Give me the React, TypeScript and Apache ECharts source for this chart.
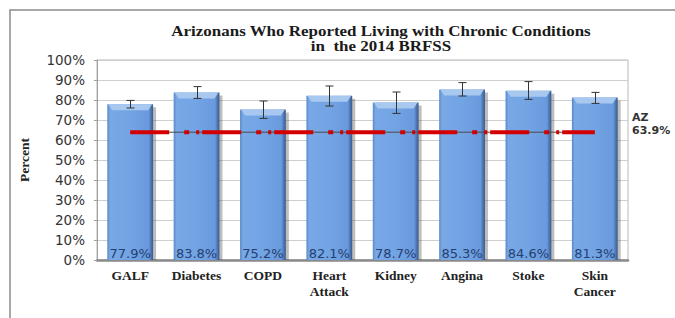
import React, { useEffect, useRef } from "react";
import * as echarts from "echarts";

const categories = ["GALF", "Diabetes", "COPD", "Heart\nAttack", "Kidney", "Angina", "Stoke", "Skin\nCancer"];
const values = [77.9, 83.8, 75.2, 82.1, 78.7, 85.3, 84.6, 81.3];
const errLow = [76.0, 80.8, 70.8, 77.0, 73.3, 82.0, 80.3, 78.3];
const errHigh = [79.8, 86.7, 79.5, 87.0, 84.0, 88.7, 89.2, 83.8];
const azRate = 63.9;
const titleText = "Arizonans Who Reported Living with Chronic Conditions\nin  the 2014 BRFSS";
const yAxisName = "Percent";
const azLabel = "AZ\n63.9%";

export default function App() {
  const ref = useRef<HTMLDivElement>(null);
  useEffect(() => {
    document.body.style.margin = "0";
    const chart = echarts.init(ref.current!, null, { renderer: "svg" });
    const barData = values.map((v, i) => [i, v]);
    const errData = values.map((_, i) => [i, errLow[i], errHigh[i]]);
    const option: any = {
      animation: false,
      backgroundColor: "#ffffff",
      grid: { left: 97, right: 47, top: 60, bottom: 58, show: true, borderColor: "#b8b8b8", borderWidth: 1 },
      graphic: [
        { type: "rect", shape: { x: 10, y: 10, width: 720, height: 400 }, style: { fill: "none", stroke: "#8c8c8c", lineWidth: 1.5 }, silent: true, z: -10 },
        { type: "text", x: 381, y: 23, scaleX: 1.13, originX: 0, originY: 0, style: { text: titleText, textAlign: "center", font: 'bold 15px "Liberation Serif"', fill: "#1a1a1a", lineHeight: 15 } },
        { type: "text", x: 632, y: 111, style: { text: azLabel, textAlign: "left", font: 'bold 11px "DejaVu Sans"', fill: "#333", lineHeight: 13 } },
      ],
      xAxis: {
        type: "category",
        data: categories,
        axisTick: { show: false },
        axisLine: { lineStyle: { color: "#8a8a8a", width: 2.5 } },
        axisLabel: { interval: 0, fontFamily: "Liberation Serif", fontWeight: "bold", fontSize: 13.5, color: "#222", margin: 7, lineHeight: 16 },
      },
      yAxis: {
        type: "value",
        min: 0,
        max: 100,
        interval: 10,
        name: yAxisName,
        nameLocation: "middle",
        nameRotate: 90,
        nameGap: 66,
        nameTextStyle: { fontFamily: "Liberation Serif", fontWeight: "bold", fontSize: 13.5, color: "#222" },
        axisLine: { show: true, lineStyle: { color: "#a0a0a0" } },
        axisTick: { show: true, length: 3, lineStyle: { color: "#a0a0a0" } },
        axisLabel: { formatter: "{value}%", fontFamily: "DejaVu Sans", fontSize: 13.5, color: "#333", margin: 12 },
        splitLine: { lineStyle: { color: "#cfcfcf" } },
      },
      series: [
        {
          type: "custom",
          z: 2,
          data: barData,
          renderItem: (params: any, api: any) => {
            const idx = api.value(0);
            const val = api.value(1);
            const top = api.coord([idx, val]);
            const base = api.coord([idx, 0]);
            const bw = api.size([1, 0])[0] * 0.69;
            const x = top[0] - bw / 2;
            const y = top[1];
            const h = base[1] - top[1];
            return {
              type: "group",
              children: [
                { type: "rect", shape: { x: x + 3, y: y + 3, width: bw, height: h - 3 }, style: { fill: "rgba(70,70,70,0.35)" } },
                {
                  type: "rect",
                  shape: { x, y, width: bw, height: h },
                  style: {
                    fill: new echarts.graphic.LinearGradient(0, 0, 1, 0, [
                      { offset: 0, color: "#5a88c8" },
                      { offset: 0.06, color: "#78a8e6" },
                      { offset: 0.5, color: "#72a3e3" },
                      { offset: 0.9, color: "#6a9ade" },
                      { offset: 0.95, color: "#4f79b4" },
                      { offset: 1, color: "#3a5a8a" },
                    ]),
                  },
                },
                {
                  type: "polygon",
                  shape: { points: [[x + 1, y], [x + bw - 1, y], [x + bw - 5, y + 6], [x + 5, y + 6]] },
                  style: { fill: "#a8c8f0" },
                },
                {
                  type: "text",
                  x: top[0],
                  y: base[1] - 7,
                  style: { text: val.toFixed(1) + "%", textAlign: "center", textVerticalAlign: "middle", font: '13px "DejaVu Sans"', fill: "#243f70" },
                },
              ],
            };
          },
        },
        {
          type: "custom",
          z: 3,
          data: errData,
          renderItem: (params: any, api: any) => {
            const idx = api.value(0);
            const lo = api.coord([idx, api.value(1)]);
            const hi = api.coord([idx, api.value(2)]);
            const cx = Math.round(lo[0]) + 0.5;
            const st = { stroke: "#333", lineWidth: 1 };
            return {
              type: "group",
              children: [
                { type: "line", shape: { x1: cx, y1: lo[1], x2: cx, y2: hi[1] }, style: st },
                { type: "line", shape: { x1: cx - 4, y1: lo[1], x2: cx + 4, y2: lo[1] }, style: st },
                { type: "line", shape: { x1: cx - 4, y1: hi[1], x2: cx + 4, y2: hi[1] }, style: st },
              ],
            };
          },
        },
        {
          type: "line",
          z: 4,
          data: categories.map(() => azRate),
          symbol: "none",
          lineStyle: { color: "#4a4a4a", width: 1 },
        },
        {
          type: "line",
          z: 5,
          data: categories.map(() => azRate),
          symbol: "none",
          lineStyle: { color: "#d40000", width: 4, type: [39, 15, 5, 7, 3, 3] },
        },
      ],
    };
    chart.setOption(option);
    return () => chart.dispose();
  }, []);
  return <div ref={ref} style={{ width: 675, height: 318 }} />;
}
